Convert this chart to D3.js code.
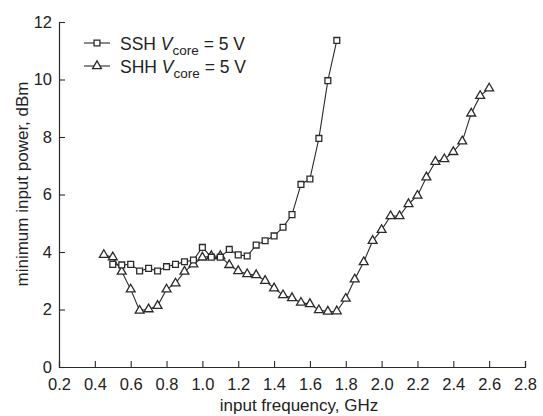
<!DOCTYPE html>
<html>
<head>
<meta charset="utf-8">
<script src="https://cdn.jsdelivr.net/npm/d3@7/dist/d3.min.js"></script>
<style>
  body { margin: 0; background: #fff; }
  text { font-family: "Liberation Sans", Arial, sans-serif; fill: #222; }
</style>
</head>
<body>
<script>
// data (GHz, dBm)
var sshFreq = [0.50, 0.55, 0.60, 0.65, 0.70, 0.75, 0.80, 0.85, 0.90, 0.95, 1.00, 1.05, 1.10, 1.15, 1.20, 1.25,
               1.30, 1.35, 1.40, 1.45, 1.50, 1.55, 1.60, 1.65, 1.70, 1.75];
var sshPower = [3.57, 3.55, 3.57, 3.34, 3.43, 3.34, 3.49, 3.57, 3.66, 3.72, 4.16, 3.82, 3.82, 4.09, 3.90, 3.86,
                4.24, 4.39, 4.56, 4.86, 5.30, 6.35, 6.54, 7.95, 9.96, 11.36];

var shhFreq = [0.45, 0.50, 0.55, 0.60, 0.65, 0.70, 0.75, 0.80, 0.85, 0.90, 0.95, 1.00, 1.05, 1.10, 1.15, 1.20,
               1.25, 1.30, 1.35, 1.40, 1.45, 1.50, 1.55, 1.60, 1.65, 1.70, 1.75, 1.80, 1.85, 1.90, 1.95, 2.00,
               2.05, 2.10, 2.15, 2.20, 2.25, 2.30, 2.35, 2.40, 2.45, 2.50, 2.55, 2.60];
var shhPower = [3.90, 3.82, 3.32, 2.70, 1.96, 2.01, 2.13, 2.70, 2.91, 3.32, 3.57, 3.81, 3.86, 3.86, 3.55, 3.34,
                3.23, 3.20, 3.00, 2.74, 2.50, 2.40, 2.24, 2.19, 1.98, 1.93, 1.94, 2.38, 3.05, 3.65, 4.39, 4.77,
                5.25, 5.25, 5.67, 5.96, 6.60, 7.14, 7.23, 7.48, 7.85, 8.82, 9.43, 9.69];

var xTicks = [0.2, 0.4, 0.6, 0.8, 1.0, 1.2, 1.4, 1.6, 1.8, 2.0, 2.2, 2.4, 2.6, 2.8];
var yTicks = [0, 2, 4, 6, 8, 10, 12];

var width = 543, height = 416;
var margin = {top: 22, right: 18, bottom: 49, left: 59};
var ink = "#2a2a2a";

var svg = d3.select("body").append("svg").attr("width", width).attr("height", height);

var x = d3.scaleLinear().domain([0.2, 2.8]).range([margin.left, width - margin.right]);
var y = d3.scaleLinear().domain([0, 12]).range([height - margin.bottom, margin.top]);

// axes: ticks point inward
var xAxis = svg.append("g").attr("transform", "translate(0," + y(0) + ")");
xAxis.call(d3.axisTop(x).tickValues(d3.range(0.3, 2.8, 0.2)).tickSize(3).tickFormat(""));
xAxis.call(d3.axisTop(x).tickValues(xTicks).tickSize(6).tickFormat(d3.format(".1f")));
xAxis.selectAll("text").attr("y", 23).attr("dy", null).style("font-size", "16.5px");

var yAxis = svg.append("g").attr("transform", "translate(" + x(0.2) + ",0)");
yAxis.call(d3.axisRight(y).tickValues(d3.range(1, 12, 2)).tickSize(3).tickFormat(""));
yAxis.call(d3.axisRight(y).tickValues(yTicks).tickSize(6).tickFormat(d3.format("d")));
yAxis.selectAll("text").attr("x", -7).attr("text-anchor", "end").style("font-size", "16.5px");

svg.selectAll(".domain").attr("stroke", ink).attr("stroke-width", 1.2);
svg.selectAll(".tick line").attr("stroke", ink).attr("stroke-width", 1.1);
svg.selectAll(".tick text").style("fill", "#222").style("font-family", "Liberation Sans, Arial, sans-serif");

// axis titles
svg.append("text")
   .attr("x", 299)
   .attr("y", 411)
   .attr("text-anchor", "middle")
   .style("font-size", "17px")
   .text("input frequency, GHz");

svg.append("text")
   .attr("transform", "translate(28,184) rotate(-90)")
   .attr("text-anchor", "middle")
   .style("font-size", "17px")
   .text("minimum input power, dBm");

// series
var line = d3.line().x(function(d) { return x(d[0]); }).y(function(d) { return y(d[1]); });
var sshData = d3.zip(sshFreq, sshPower);
var shhData = d3.zip(shhFreq, shhPower);

var squareSym = d3.symbol().type(d3.symbolSquare).size(34);
var triSym = d3.symbol().type(d3.symbolTriangle).size(34);

function drawSeries(data, sym) {
    svg.append("path")
       .datum(data)
       .attr("d", line)
       .attr("fill", "none")
       .attr("stroke", ink)
       .attr("stroke-width", 1.1);
    svg.append("g").selectAll("path")
       .data(data)
       .enter().append("path")
       .attr("transform", function(d) { return "translate(" + x(d[0]) + "," + y(d[1]) + ")"; })
       .attr("d", sym)
       .attr("fill", "#fff")
       .attr("stroke", ink)
       .attr("stroke-width", 1.3);
}
drawSeries(shhData, triSym);
drawSeries(sshData, squareSym);

// legend
var legendItems = [
    {name: "SSH", sym: squareSym, y: 43},
    {name: "SHH", sym: triSym, y: 66}
];
legendItems.forEach(function(item) {
    svg.append("line")
       .attr("x1", 84).attr("x2", 110)
       .attr("y1", item.y).attr("y2", item.y)
       .attr("stroke", ink).attr("stroke-width", 1.1);
    svg.append("path")
       .attr("transform", "translate(97," + item.y + ")")
       .attr("d", item.sym)
       .attr("fill", "#fff")
       .attr("stroke", ink)
       .attr("stroke-width", 1.3);
    var t = svg.append("text")
       .attr("x", 120)
       .attr("y", item.y + 7)
       .style("font-size", "17.5px");
    t.append("tspan").text(item.name + " ");
    t.append("tspan").style("font-style", "italic").text("V");
    t.append("tspan").attr("dy", 5).style("font-size", "13.5px").text("core");
    t.append("tspan").attr("dy", -5).text(" = 5 V");
});
</script>
</body>
</html>
